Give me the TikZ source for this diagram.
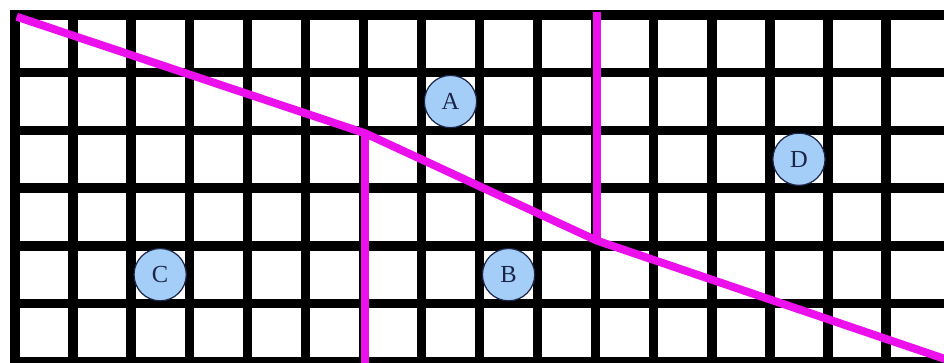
\documentclass[tikz,border=0pt]{standalone}
\usepackage{fontspec}
\setmainfont{Liberation Serif}
\usepackage{xcolor}
\usepackage{tikz}
\usetikzlibrary{positioning, calc}

\definecolor{cutpink}{RGB}{236,16,236}
\definecolor{dotblue}{RGB}{164,206,248}
\definecolor{dotink}{RGB}{28,36,72}

\begin{document}
\begin{tikzpicture}[
  x=1cm, y=0.9937cm,
  gline/.style = {line width=4.6pt, black, line cap=rect},
  cut/.style   = {line width=3.9pt, cutpink},
  lbl/.style   = {circle, draw=dotink, line width=0.6pt, fill=dotblue,
                  minimum size=0.9cm, inner sep=0pt, text=dotink,
                  font=\fontsize{12}{14}\selectfont},
]
\useasboundingbox (-0.258,0.26) rectangle (15.998,-6.014);

% ── Grid ──────────────────────────────────────────────────────────────────────
\foreach \i in {0,...,15}
  \draw[gline] (\i,0) -- (\i,-6.3);
\foreach \j in {0,...,6}
  \draw[gline] (0,-\j) -- (16.3,-\j);

% ── Cut lines ─────────────────────────────────────────────────────────────────
\coordinate (s)   at (0.03,-0.03);
\coordinate (j1)  at (6.03,-2.05);
\coordinate (j2)  at (10.02,-3.91);
\coordinate (e)   at (16.1,-5.99);
\coordinate (top) at (10.02,0.05);
\coordinate (bot) at (6.03,-6.3);

\draw[cut] (s) -- (j1) -- (j2) -- (e);
\draw[cut] (j1) -- (bot);
\draw[cut] (top) -- (j2);

% ── Labelled points ───────────────────────────────────────────────────────────
\node[lbl] (A) at (7.5,-1.5) {A};
\node[lbl] (B) at (8.5,-4.5) {B};
\node[lbl] (C) at (2.5,-4.5) {C};
\node[lbl] (D) at (13.5,-2.5) {D};

\end{tikzpicture}
\end{document}
